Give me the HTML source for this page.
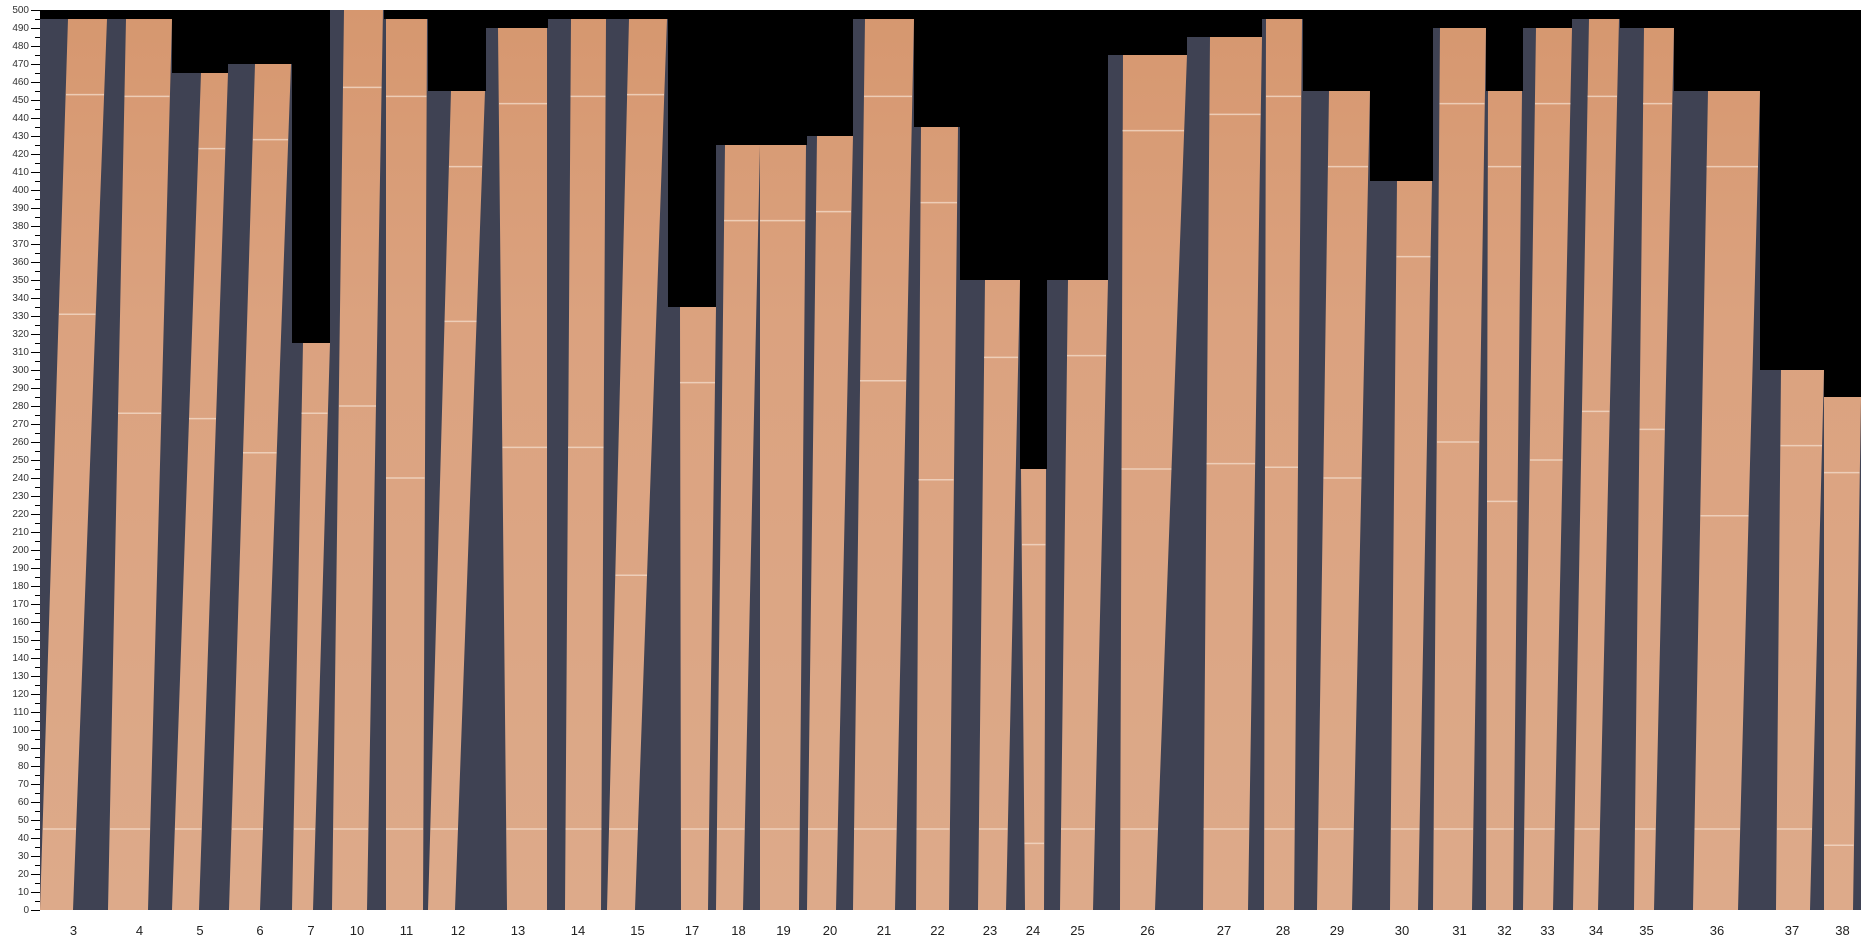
<!DOCTYPE html>
<html>
<head>
<meta charset="utf-8">
<style>
html,body{margin:0;padding:0;background:#fff;}
body{position:relative;width:1861px;height:950px;overflow:hidden;}
svg{display:block;position:absolute;left:0;top:0;}
.ylab{position:absolute;left:0;top:2px;width:29px;text-align:right;font-family:"Liberation Sans",Arial,sans-serif;font-size:10px;line-height:18px;color:#333;}
.xl{font-family:"Liberation Sans",Arial,sans-serif;font-size:13px;fill:#222;text-anchor:middle;}
</style>
</head>
<body>
<svg width="1861" height="950" viewBox="0 0 1861 950" xmlns="http://www.w3.org/2000/svg">
<defs>
<linearGradient id="w" gradientUnits="userSpaceOnUse" x1="0" y1="10" x2="0" y2="910">
<stop offset="0" stop-color="#d6976f"/>
<stop offset="0.35" stop-color="#dba27f"/>
<stop offset="1" stop-color="#ddaa8a"/>
</linearGradient>
</defs>
<rect x="40" y="10" width="1821" height="900" fill="#000"/>
<path fill="#3f4253" d="M40 19H107V910H40Z M107 19H172V910H107Z M172 73H228V910H172Z M228 64H292V910H228Z M292 343H330V910H292Z M330 10H384V910H330Z M384 19H428V910H384Z M428 91H486V910H428Z M486 28H548V910H486Z M548 19H606V910H548Z M606 19H668V910H606Z M668 307H716V910H668Z M716 145H760V910H716Z M760 145H807V910H760Z M807 136H853V910H807Z M853 19H914V910H853Z M914 127H960V910H914Z M960 280H1020V910H960Z M1020 469H1047V910H1020Z M1047 280H1108V910H1047Z M1108 55H1187V910H1108Z M1187 37H1262V910H1187Z M1262 19H1303V910H1262Z M1303 91H1370V910H1303Z M1370 181H1433V910H1370Z M1433 28H1486V910H1433Z M1486 91H1523V910H1486Z M1523 28H1572V910H1523Z M1572 19H1620V910H1572Z M1620 28H1674V910H1620Z M1674 91H1760V910H1674Z M1760 370H1824V910H1760Z M1824 397H1861V910H1824Z"/>
<path fill="url(#w)" d="M68 19L107 19L73 910L40 910Z M126 19L172 19L148 910L108 910Z M201 73L228 73L199 910L172 910Z M255 64L291 64L260 910L229 910Z M303 343L330 343L313 910L292 910Z M344 10L383 10L367 910L332 910Z M386 19L427 19L423 910L386 910Z M451 91L485 91L455 910L428 910Z M498 28L547 28L547 910L507 910Z M571 19L606 19L601 910L565 910Z M629 19L667 19L635 910L607 910Z M680 307L716 307L708 910L681 910Z M725 145L760 145L743 910L716 910Z M760 145L806 145L799 910L760 910Z M817 136L853 136L836 910L807 910Z M865 19L914 19L895 910L853 910Z M921 127L958 127L949 910L916 910Z M985 280L1020 280L1006 910L978 910Z M1021 469L1046 469L1044 910L1025 910Z M1068 280L1108 280L1093 910L1060 910Z M1123 55L1187 55L1155 910L1120 910Z M1210 37L1262 37L1248 910L1203 910Z M1266 19L1302 19L1294 910L1264 910Z M1329 91L1370 91L1352 910L1317 910Z M1397 181L1432 181L1418 910L1390 910Z M1440 28L1486 28L1472 910L1433 910Z M1488 91L1522 91L1513 910L1486 910Z M1536 28L1572 28L1553 910L1523 910Z M1589 19L1619 19L1598 910L1573 910Z M1644 28L1674 28L1654 910L1634 910Z M1708 91L1760 91L1738 910L1693 910Z M1781 370L1824 370L1810 910L1776 910Z M1824 397L1861 397L1853 910L1824 910Z"/>
<path stroke="#f4dccb" stroke-opacity="0.75" stroke-width="1.5" fill="none" d="M66 94.6H104M59 314.2H95.5M43 829H76 M124.5 96.4H169.5M118 413.2H161M110 829H150 M198.5 148.6H225M189 418.6H216M175 829H201.5 M253 139.6H288M243 452.8H276.5M232 829H263 M301.5 413.2H327.5M294 829H315 M343 87.4H381.5M339 406H376M333.5 829H368 M386 96.4H426.5M386 478H424.5M386 829H423 M449 166.6H482M444.5 321.4H476.5M430.5 829H458 M499 103.6H547M502.5 447.4H547M506.5 829H547 M570.5 96.4H605.5M568 447.4H603.5M565.5 829H601.5 M627 94.6H664M615.5 575.2H647M609 829H638 M680 382.6H715M681 829H709 M724 220.6H758M717 829H744.5 M760 220.6H805M760 829H799.5 M816 211.6H851M808 829H837.5 M864 96.4H912M860 380.8H906M854 829H896.5 M920.5 202.6H957M918.5 479.8H953.5M916.5 829H949.5 M984 357.4H1018M979 829H1007.5 M1022 544.6H1045.5M1024.5 843.4H1044 M1067 355.6H1106M1061 829H1094.5 M1122.5 130.6H1184M1121.5 469H1171.5M1120.5 829H1158 M1209.5 114.4H1260.5M1206.5 463.6H1255M1203.5 829H1249 M1266 96.4H1301M1265 467.2H1298M1264.5 829H1294.5 M1328 166.6H1368M1323.5 478H1361.5M1318.5 829H1353.5 M1396.5 256.6H1430.5M1391 829H1419.5 M1439.5 103.6H1484.5M1437 442H1479M1434 829H1473 M1488 166.6H1521M1487 501.4H1517.5M1486.5 829H1513.5 M1535 103.6H1570.5M1530 460H1562.5M1524.5 829H1554.5 M1587.5 96.4H1617M1582 411.4H1609.5M1574.5 829H1599.5 M1643 103.6H1672M1639.5 429.4H1664.5M1635 829H1655.5 M1706.5 166.6H1758M1700.5 515.8H1748.5M1694.5 829H1740 M1780.5 445.6H1822M1777 829H1812 M1824 472.6H1859.5M1824 845.2H1853.5"/>
<line x1="35.5" y1="10" x2="35.5" y2="911" stroke="#000" stroke-width="9" stroke-dasharray="1 17"/>
<line x1="37.5" y1="19" x2="37.5" y2="902" stroke="#000" stroke-width="5" stroke-dasharray="1 17"/>
<g class="xl">
<text x="73.5" y="935">3</text>
<text x="139.5" y="935">4</text>
<text x="200" y="935">5</text>
<text x="260" y="935">6</text>
<text x="311" y="935">7</text>
<text x="357" y="935">10</text>
<text x="406.5" y="935">11</text>
<text x="458" y="935">12</text>
<text x="518" y="935">13</text>
<text x="578" y="935">14</text>
<text x="637.5" y="935">15</text>
<text x="692" y="935">17</text>
<text x="738.5" y="935">18</text>
<text x="783.5" y="935">19</text>
<text x="830" y="935">20</text>
<text x="884" y="935">21</text>
<text x="937.5" y="935">22</text>
<text x="990" y="935">23</text>
<text x="1033" y="935">24</text>
<text x="1077.5" y="935">25</text>
<text x="1147.5" y="935">26</text>
<text x="1224" y="935">27</text>
<text x="1283" y="935">28</text>
<text x="1337" y="935">29</text>
<text x="1402" y="935">30</text>
<text x="1459.5" y="935">31</text>
<text x="1504.5" y="935">32</text>
<text x="1547.5" y="935">33</text>
<text x="1596" y="935">34</text>
<text x="1646.5" y="935">35</text>
<text x="1717" y="935">36</text>
<text x="1792" y="935">37</text>
<text x="1842.5" y="935">38</text>
</g>
</svg>
<div class="ylab">500<br>490<br>480<br>470<br>460<br>450<br>440<br>430<br>420<br>410<br>400<br>390<br>380<br>370<br>360<br>350<br>340<br>330<br>320<br>310<br>300<br>290<br>280<br>270<br>260<br>250<br>240<br>230<br>220<br>210<br>200<br>190<br>180<br>170<br>160<br>150<br>140<br>130<br>120<br>110<br>100<br>90<br>80<br>70<br>60<br>50<br>40<br>30<br>20<br>10<br>0</div>
</body>
</html>
